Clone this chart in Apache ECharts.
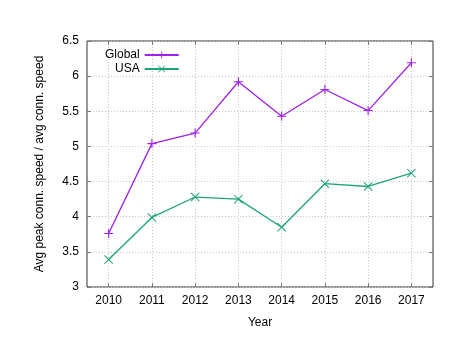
<!DOCTYPE html>
<html><head><meta charset="utf-8">
<script src="https://cdn.jsdelivr.net/npm/echarts@6/dist/echarts.min.js"></script>
<style>html,body{margin:0;padding:0;background:#fff}#c{width:467px;height:360px}</style>
</head><body><div id="c"></div>
<script>
const years = ['2010','2011','2012','2013','2014','2015','2016','2017'];
const globalVals = [3.76, 5.04, 5.19, 5.92, 5.43, 5.81, 5.51, 6.19];
const usaVals = [3.39, 3.99, 4.28, 4.25, 3.85, 4.47, 4.43, 4.62];
const yTicks = ['3','3.5','4','4.5','5','5.5','6','6.5'];

const plusPath = 'path://M0,4.4 H10 V5.6 H0 Z M4.4,0 H5.6 V10 H4.4 Z';
const crossPath = 'path://M0.8,0 L5,4.2 L9.2,0 L10,0.8 L5.8,5 L10,9.2 L9.2,10 L5,5.8 L0.8,10 L0,9.2 L4.2,5 L0,0.8 Z';
const font = 'Liberation Sans, Arial, sans-serif';
const tickStyle = {show: true, inside: true, length: 4, lineStyle: {color: '#777'}};
const chart = echarts.init(document.getElementById('c'));
chart.setOption({
  animation: false,
  grid: {left: 87, top: 41, right: 34, bottom: 73, show: true, borderColor: '#333', borderWidth: 1, backgroundColor: 'transparent'},
  legend: {
    left: 100, top: 44, orient: 'vertical', align: 'right', itemGap: 2,
    itemWidth: 34, itemHeight: 9,
    textStyle: {fontFamily: font, fontSize: 12, color: '#000'},
    data: ['Global', 'USA']
  },
  xAxis: [{
    type: 'category', data: years,
    name: 'Year', nameLocation: 'middle', nameGap: 30,
    nameTextStyle: {fontFamily: font, fontSize: 12, color: '#000'},
    axisLine: {show: false},
    axisTick: Object.assign({alignWithLabel: true}, tickStyle),
    axisLabel: {fontFamily: font, fontSize: 12, color: '#000', margin: 8},
    splitLine: {show: true, alignWithLabel: true, lineStyle: {color: '#c8c8c8', type: [1, 2], width: 1}}
  }, {
    type: 'category', data: years, position: 'top',
    axisLine: {show: false},
    axisTick: Object.assign({alignWithLabel: true}, tickStyle),
    axisLabel: {show: false}, splitLine: {show: false}
  }],
  yAxis: [{
    type: 'value', min: 3, max: 6.5, interval: 0.5,
    name: 'Avg peak conn. speed / avg conn. speed', nameLocation: 'middle', nameGap: 41,
    nameTextStyle: {fontFamily: font, fontSize: 12, color: '#000'},
    axisLine: {show: false},
    axisTick: tickStyle,
    axisLabel: {fontFamily: font, fontSize: 12, color: '#000', margin: 8,
      formatter: function (v) { const s = String(Math.round(v * 10) / 10); return yTicks.indexOf(s) >= 0 ? s : ''; }},
    splitLine: {show: true, lineStyle: {color: '#c8c8c8', type: [1, 2], width: 1}}
  }, {
    type: 'value', min: 3, max: 6.5, interval: 0.5, position: 'right',
    axisLine: {show: false}, axisTick: tickStyle,
    axisLabel: {show: false}, splitLine: {show: false}
  }],
  series: [
    {name: 'Global', type: 'line', data: globalVals, symbol: plusPath, symbolSize: 9,
     lineStyle: {color: '#a020e8', width: 1.3}, itemStyle: {color: '#a020e8'}},
    {name: 'USA', type: 'line', data: usaVals, symbol: crossPath, symbolSize: 9,
     lineStyle: {color: '#1ea47a', width: 1.3}, itemStyle: {color: '#1ea47a'}}
  ]
});
</script></body></html>
